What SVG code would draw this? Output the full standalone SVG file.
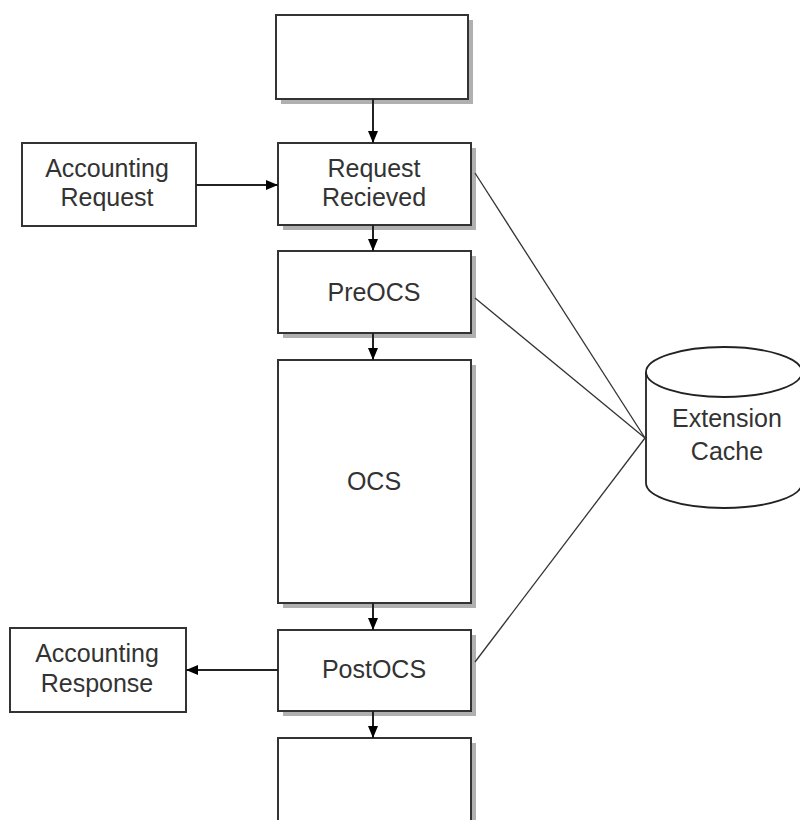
<svg xmlns="http://www.w3.org/2000/svg" width="800" height="820" viewBox="0 0 800 820">
<style>
.box{fill:#fff;stroke:#333;stroke-width:2}
.sh{fill:#b0b0b0}
.t{font-family:"Liberation Sans",Arial,sans-serif;font-size:25px;fill:#333;text-anchor:middle}
.c{stroke:#222;stroke-width:2;fill:none}
.l{stroke:#333;stroke-width:1.3;fill:none}
</style>
<defs>
<marker id="ah" markerWidth="12" markerHeight="10" refX="12" refY="5" orient="auto" markerUnits="userSpaceOnUse">
<path d="M0,0 L12,5 L0,10 Z" fill="#000"/>
</marker>
</defs>
<rect width="800" height="820" fill="#fff"/>
<g id="top">
<rect class="sh" x="281" y="20" width="192" height="84"/>
<rect class="box" x="276" y="15" width="192" height="84"/>
</g>
<g id="accreq">
<rect class="box" x="22" y="143" width="174" height="83"/>
<text class="t" x="107" y="177">Accounting</text>
<text class="t" x="107" y="206">Request</text>
</g>
<g id="reqrec">
<rect class="sh" x="283" y="148" width="193" height="82"/>
<rect class="box" x="278" y="143" width="193" height="82"/>
<text class="t" x="374" y="177">Request</text>
<text class="t" x="374" y="206">Recieved</text>
</g>
<g id="preocs">
<rect class="sh" x="283" y="256" width="193" height="82"/>
<rect class="box" x="278" y="251" width="193" height="82"/>
<text class="t" x="374" y="301">PreOCS</text>
</g>
<g id="ocs">
<rect class="sh" x="283" y="365" width="193" height="243"/>
<rect class="box" x="278" y="360" width="193" height="243"/>
<text class="t" x="374" y="490">OCS</text>
</g>
<g id="postocs">
<rect class="sh" x="283" y="635" width="193" height="81"/>
<rect class="box" x="278" y="630" width="193" height="81"/>
<text class="t" x="374" y="678">PostOCS</text>
</g>
<g id="accresp">
<rect class="box" x="10" y="628" width="176" height="84"/>
<text class="t" x="97" y="662">Accounting</text>
<text class="t" x="97" y="692">Response</text>
</g>
<g id="bottom">
<rect class="sh" x="283" y="743" width="193" height="90"/>
<rect class="box" x="278" y="738" width="193" height="90"/>
</g>
<g id="cache">
<path d="M646,372 L646,483 A78,25 0 0 0 802,483 L802,372" fill="#fff" stroke="#222" stroke-width="1.8"/>
<ellipse cx="724" cy="372" rx="78" ry="25" fill="#fff" stroke="#222" stroke-width="1.8"/>
<text class="t" x="727" y="427">Extension</text>
<text class="t" x="727" y="460">Cache</text>
</g>
<g id="connectors">
<line class="c" x1="373" y1="99" x2="373" y2="143" marker-end="url(#ah)"/>
<line class="c" x1="373" y1="225" x2="373" y2="251" marker-end="url(#ah)"/>
<line class="c" x1="373" y1="333" x2="373" y2="360" marker-end="url(#ah)"/>
<line class="c" x1="373" y1="603" x2="373" y2="630" marker-end="url(#ah)"/>
<line class="c" x1="373" y1="711" x2="373" y2="738" marker-end="url(#ah)"/>
<line class="c" x1="196" y1="185" x2="278" y2="185" marker-end="url(#ah)"/>
<line class="c" x1="278" y1="670" x2="186" y2="670" marker-end="url(#ah)"/>
<line class="l" x1="475" y1="173" x2="645" y2="438"/>
<line class="l" x1="475" y1="298" x2="645" y2="438"/>
<line class="l" x1="475" y1="662" x2="645" y2="438"/>
</g>
</svg>
